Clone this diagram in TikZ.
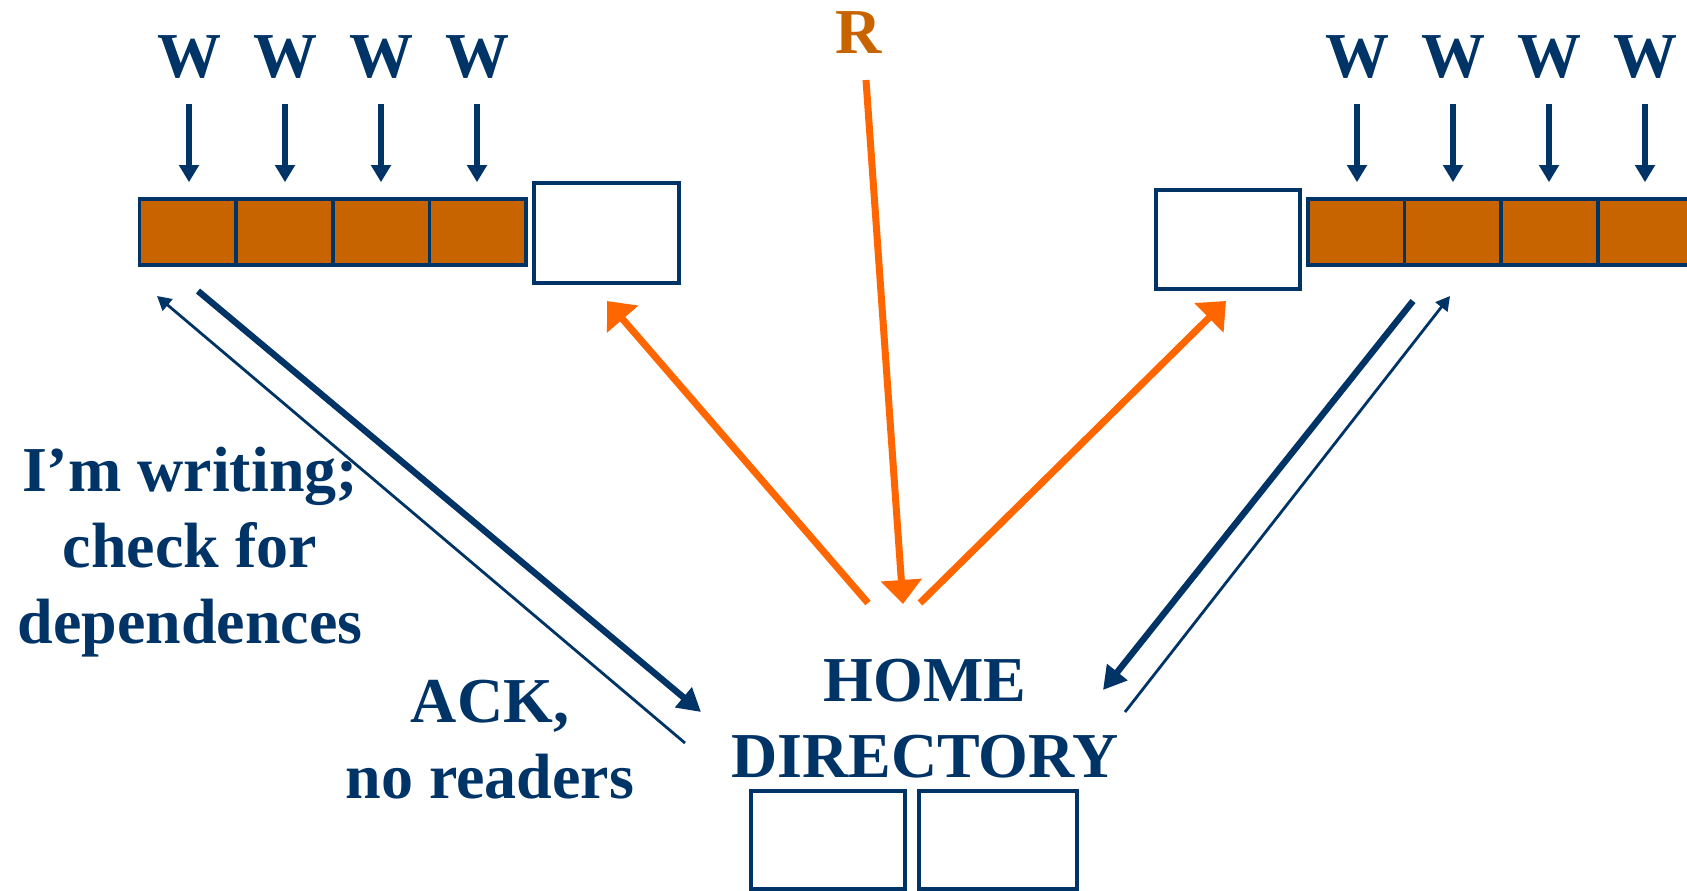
\documentclass[tikz,border=0pt]{standalone}
\usepackage{fontspec}
\setmainfont{Liberation Serif}
\usepackage{xcolor}
\usetikzlibrary{arrows.meta}

\definecolor{navy}{RGB}{0,51,102}
\definecolor{rust}{RGB}{200,100,0}
\definecolor{flame}{RGB}{255,102,0}

\tikzset{
  cell/.style={draw=navy,fill=rust,line width=1.8pt,inner sep=0pt,
    minimum width=48.3pt,minimum height=33pt},
  slot/.style={draw=navy,fill=white,line width=1.8pt,inner sep=0pt},
  lbl/.style={text=navy,font=\fontsize{32}{38}\selectfont\bfseries,
    inner sep=0pt,align=center},
  wr/.style={navy,line width=3.4pt,-{Triangle[length=8.5pt,width=9.5pt]},
    shorten <=13.5pt,shorten >=7.5pt},
  req/.style={navy,line width=3.2pt,-{Triangle[length=11.5pt,width=12.5pt]}},
  rep/.style={navy,line width=1.4pt,-{Triangle[length=7pt,width=7.5pt]}},
  fwd/.style={flame,line width=3.5pt,-{Triangle[length=12pt,width=20pt]}},
}

\begin{document}
\begin{tikzpicture}[x=0.5pt,y=-0.5pt,line join=miter]
  \useasboundingbox (0,0) rectangle (1687,890);

  % left write buffer
  \node[cell] (lc1) at (187.9,232) {};
  \node[cell] (lc2) at (284.5,232) {};
  \node[cell] (lc3) at (381.1,232) {};
  \node[cell] (lc4) at (477.7,232) {};
  \node[slot,minimum width=72.5pt,minimum height=50pt] (ls) at (606.5,233) {};

  % right write buffer
  \node[slot,minimum width=72pt,minimum height=49.5pt] (rs) at (1228,239.5) {};
  \node[cell] (rc1) at (1356.3,232) {};
  \node[cell] (rc2) at (1452.9,232) {};
  \node[cell] (rc3) at (1549.5,232) {};
  \node[cell] (rc4) at (1646.1,232) {};

  % writes
  \node[lbl,anchor=base] (lw1) at (189,77) {W};
  \node[lbl,anchor=base] (lw2) at (285,77) {W};
  \node[lbl,anchor=base] (lw3) at (381,77) {W};
  \node[lbl,anchor=base] (lw4) at (477,77) {W};
  \node[lbl,anchor=base] (rw1) at (1357,77) {W};
  \node[lbl,anchor=base] (rw2) at (1453,77) {W};
  \node[lbl,anchor=base] (rw3) at (1549,77) {W};
  \node[lbl,anchor=base] (rw4) at (1645,77) {W};
  \draw[wr] (lw1.base) -- (lw1.base |- lc1.north);
  \draw[wr] (lw2.base) -- (lw2.base |- lc2.north);
  \draw[wr] (lw3.base) -- (lw3.base |- lc3.north);
  \draw[wr] (lw4.base) -- (lw4.base |- lc4.north);
  \draw[wr] (rw1.base) -- (rw1.base |- rc1.north);
  \draw[wr] (rw2.base) -- (rw2.base |- rc2.north);
  \draw[wr] (rw3.base) -- (rw3.base |- rc3.north);
  \draw[wr] (rw4.base) -- (rw4.base |- rc4.north);

  % the read
  \node[lbl,anchor=base,text=rust] (rd) at (859,53) {R};

  % home node (base sits on the last line)
  \node[lbl,anchor=base] (home) at (925,777) {HOME\\DIRECTORY};
  \node[slot,minimum width=77pt,minimum height=49pt] (hb1) at (828,840) {};
  \node[slot,minimum width=79pt,minimum height=49pt] (hb2) at (998,840) {};

  % message labels
  \node[lbl,anchor=base] (msg) at (190,643) {I’m writing;\\check for\\dependences};
  \node[lbl,anchor=base] (ack) at (490,798) {ACK,\\no readers};

  % arrow ends
  \coordinate (rdTail) at (866,80);
  \coordinate (rdTip) at (903,604);
  \coordinate (fwL) at (868,603);
  \coordinate (fwR) at (920,603);
  \coordinate (lsTip) at (607,301);
  \coordinate (rsTip) at (1226,301);
  \coordinate (lqTail) at (198,291);
  \coordinate (lqTip) at (701,712);
  \coordinate (laTail) at (685,743);
  \coordinate (laTip) at (157,296);
  \coordinate (rqTail) at (1413,301);
  \coordinate (rqTip) at (1103,690);
  \coordinate (raTail) at (1125,712);
  \coordinate (raTip) at (1450,296);

  \draw[fwd] (rdTail) -- (rdTip);
  \draw[fwd] (fwL) -- (lsTip);
  \draw[fwd] (fwR) -- (rsTip);
  \draw[req] (lqTail) -- (lqTip);
  \draw[rep] (laTail) -- (laTip);
  \draw[req] (rqTail) -- (rqTip);
  \draw[rep] (raTail) -- (raTip);
\end{tikzpicture}
\end{document}
